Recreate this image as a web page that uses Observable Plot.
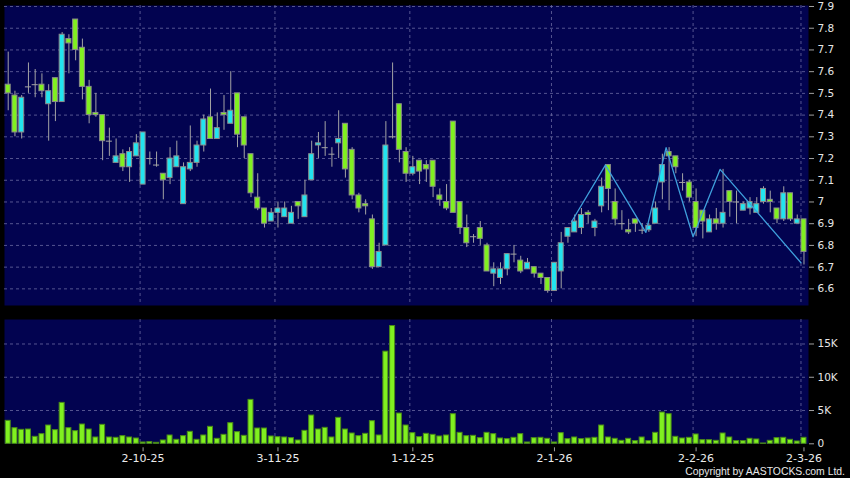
<!DOCTYPE html>
<html><head><meta charset="utf-8">
<script src="https://cdn.jsdelivr.net/npm/d3@7"></script>
<script src="https://cdn.jsdelivr.net/npm/@observablehq/plot@0.6"></script>
<style>
html,body{margin:0;padding:0;background:#000;}
#wrap{position:relative;width:850px;height:478px;overflow:hidden;background:#000;}
#price{position:absolute;left:0;top:0;}
#vol{position:absolute;left:0;top:310px;}
#copy{position:absolute;right:5px;top:466px;color:#e8e8e8;font:10.4px "Liberation Sans",Arial,sans-serif;line-height:11px;white-space:nowrap;}
</style></head><body>
<div id="wrap"><div id="price"></div><div id="vol"></div><div id="copy">Copyright by AASTOCKS.com Ltd.</div></div>
<script>
// ---- data (daily candles, index 0..118) ----
const opens = [7.54,7.49,7.32,7.53,7.54,7.54,7.45,7.57,7.46,7.75,7.84,7.71,7.53,7.41,7.40,7.28,7.18,7.22,7.16,7.21,
7.08,7.20,7.17,7.13,7.11,7.16,6.99,7.15,7.18,7.26,7.39,7.29,7.41,7.36,7.50,7.39,7.22,7.02,6.97,6.91,
6.95,6.93,6.90,7.00,6.93,7.10,7.26,7.25,7.22,7.27,7.36,7.24,7.03,6.99,6.92,6.70,6.80,7.30,7.45,7.23,
7.13,7.19,7.17,7.19,7.03,7.00,7.37,7.00,6.88,6.84,6.88,6.80,6.67,6.65,6.69,6.76,6.73,6.69,6.70,6.67,
6.65,6.59,6.68,6.84,6.86,6.88,6.95,6.88,6.98,7.17,7.00,6.90,6.87,6.92,6.87,6.87,6.90,7.09,7.23,7.21,
7.09,7.09,7.00,6.96,6.86,6.92,6.90,7.05,7.00,6.96,6.97,6.95,7.00,7.01,6.97,6.92,7.04,6.90,6.92];
const highs = [7.69,7.51,7.49,7.64,7.61,7.59,7.54,7.57,7.78,7.77,7.84,7.75,7.56,7.50,7.40,7.34,7.29,7.24,7.25,7.31,
7.32,7.23,7.23,7.13,7.25,7.28,7.18,7.35,7.28,7.40,7.52,7.41,7.49,7.60,7.50,7.39,7.22,7.13,6.97,6.97,
7.00,7.00,6.98,7.00,7.10,7.28,7.32,7.37,7.25,7.42,7.36,7.25,7.04,7.01,6.94,6.81,7.37,7.64,7.45,7.25,
7.21,7.19,7.19,7.19,7.06,7.08,7.37,7.00,6.94,6.85,6.91,6.81,6.72,6.72,6.76,6.80,6.75,6.74,6.70,6.67,
6.65,6.72,6.86,6.88,6.94,6.97,6.96,6.92,7.11,7.17,7.06,6.96,6.92,6.92,6.90,6.90,7.00,7.22,7.25,7.21,
7.13,7.10,7.06,6.96,6.94,6.97,7.15,7.05,7.05,7.00,7.02,7.02,7.07,7.05,6.97,7.07,7.04,6.94,6.92];
const lows = [7.42,7.30,7.29,7.50,7.48,7.48,7.28,7.37,7.46,7.59,7.65,7.47,7.36,7.39,7.19,7.21,7.18,7.14,7.09,7.21,
7.08,7.17,7.16,7.01,7.08,7.16,6.99,7.14,7.16,7.23,7.29,7.29,7.33,7.36,7.25,7.20,7.02,6.96,6.88,6.91,
6.88,6.93,6.90,6.92,6.93,7.10,7.20,7.21,7.16,7.20,7.11,7.01,6.95,6.94,6.69,6.70,6.80,7.29,7.18,7.09,
7.12,7.08,7.09,7.02,6.98,6.96,6.95,6.85,6.79,6.81,6.80,6.68,6.61,6.62,6.66,6.72,6.67,6.69,6.65,6.62,
6.58,6.59,6.60,6.81,6.86,6.85,6.90,6.84,6.95,6.96,6.89,6.87,6.85,6.86,6.85,6.86,6.90,7.01,6.96,7.13,
7.05,7.00,6.84,6.83,6.86,6.87,6.88,6.93,6.90,6.96,6.94,6.95,6.99,6.95,6.90,6.91,6.91,6.90,6.71];
const closes = [7.50,7.32,7.48,7.53,7.54,7.51,7.51,7.46,7.77,7.73,7.70,7.53,7.40,7.40,7.28,7.28,7.21,7.16,7.23,7.27,
7.32,7.20,7.17,7.10,7.20,7.21,7.16,7.18,7.26,7.38,7.29,7.34,7.40,7.42,7.31,7.26,7.04,6.97,6.90,6.95,
6.97,6.97,6.95,6.98,7.03,7.22,7.27,7.25,7.22,7.29,7.15,7.03,6.97,6.98,6.70,6.77,7.26,7.30,7.24,7.13,
7.16,7.14,7.15,7.07,7.01,6.97,6.95,6.88,6.81,6.84,6.83,6.68,6.69,6.69,6.76,6.76,6.68,6.72,6.67,6.65,
6.59,6.72,6.81,6.88,6.91,6.94,6.94,6.91,7.07,7.06,6.92,6.90,6.86,6.90,6.87,6.89,6.97,7.17,7.21,7.16,
7.09,7.02,6.88,6.91,6.92,6.90,6.95,7.00,7.00,6.99,7.00,6.99,7.06,7.00,6.92,7.04,6.92,6.92,6.77];
const volumes = [3450,2350,2100,2150,1050,1450,2750,2050,6150,2350,1900,2900,2150,950,2850,950,900,1150,950,800,
200,250,150,500,1250,600,1150,1800,600,1250,2550,
750,1350,3100,1750,1200,6600,2300,2300,1100,1000,950,850,500,1950,4250,2150,2400,950,3900,2150,1550,1150,1500,3400,1250,13850,17700,4550,2750,1600,1000,
1500,1350,1100,1250,4450,1650,1150,1200,850,1650,1450,800,700,900,1450,200,850,900,750,200,1600,700,950,700,800,900,2750,950,750,450,750,
400,950,400,1650,4700,4450,1050,800,900,1400,550,550,450,1550,950,400,400,750,650,50,450,850,900,600,350,900];
// date tick positions (candle index) and labels
const dateIdx = [20, 40, 60, 81, 102, 118];
const dateLabels = ["2-10-25", "3-11-25", "1-12-25", "2-1-26", "2-2-26", "2-3-26"];
// price and volume tick values
const priceTicks = [6.6,6.7,6.8,6.9,7.0,7.1,7.2,7.3,7.4,7.5,7.6,7.7,7.8,7.9];
const volTicks = [0, 5000, 10000, 15000];
const volTickLabels = ["0", "5K", "10K", "15K"];
// zigzag trend line vertices
const zzIdx = [84, 89, 95, 98, 102, 106, 118];
const zzPrice = [6.91, 7.17, 6.86, 7.25, 6.84, 7.15, 6.72];

// ---- build tables ----
const candles = d3.range(opens.length).map(i => ({i, open: opens[i], high: highs[i], low: lows[i], close: closes[i], volume: volumes[i]}));
const bodies = candles.filter(d => d.open !== d.close);
const dojis = candles.filter(d => d.open === d.close);
const zz = zzIdx.map((x, k) => ({x, y: zzPrice[k]}));

const NAVY = "#020350", GREEN = "#80f020", CYAN = "#22e4ef";
const GRID = {stroke: "#6a6aa0", strokeDasharray: "3,3", strokeOpacity: 0.8, strokeWidth: 1};
const xDomain = [-0.55, 118.67];
const HW = 0.37;
const fontFamily = "'DejaVu Sans', sans-serif";

const price = Plot.plot({
  width: 850, height: 310,
  marginTop: 5, marginBottom: 5, marginLeft: 4, marginRight: 42,
  style: {background: "#000", color: "#e6e6e6", fontFamily, fontSize: "10.5px"},
  x: {domain: xDomain, axis: null},
  y: {domain: [6.5234, 7.9046], axis: null},
  marks: [
    Plot.frame({fill: NAVY, stroke: null}),
    Plot.ruleY(priceTicks, {...GRID}),
    Plot.ruleX(dateIdx, {...GRID, dx: -3}),
    Plot.ruleX(candles, {x: "i", y1: "low", y2: "high", stroke: "#a4a4a4", strokeWidth: 1}),
    Plot.rect(bodies, {x1: d => d.i - HW, x2: d => d.i + HW, y1: "open", y2: "close",
      fill: d => d.close > d.open ? CYAN : GREEN, stroke: "#8c8c8c", strokeWidth: 1}),
    Plot.ruleY(dojis, {y: "open", x1: d => d.i - 0.45, x2: d => d.i + 0.45, stroke: "#a4a4a4", strokeWidth: 1}),
    Plot.line(zz, {x: "x", y: "y", dx: -3, stroke: "#3f9fdc", strokeWidth: 1.3}),
    Plot.axisY({anchor: "right", ticks: priceTicks, tickFormat: d => String(+d.toFixed(1)), tickSize: 5, tickPadding: 4, stroke: "#a0a0a0", fill: "#e6e6e6", fontSize: 10.5, label: null})
  ]
});
document.getElementById("price").appendChild(price);

const vol = Plot.plot({
  width: 850, height: 168,
  marginTop: 9, marginBottom: 34.7, marginLeft: 4, marginRight: 42,
  style: {background: "#000", color: "#e6e6e6", fontFamily, fontSize: "10.5px"},
  x: {domain: xDomain, axis: null},
  y: {domain: [0, 18680], axis: null},
  marks: [
    Plot.frame({fill: NAVY, stroke: null}),
    Plot.ruleY(volTicks.filter(v => v > 0), {...GRID}),
    Plot.ruleX(dateIdx, {...GRID, dx: -3}),
    Plot.rectY(candles, {x1: d => d.i - HW, x2: d => d.i + HW, y: "volume", fill: GREEN, stroke: "#4a8a18", strokeWidth: 1}),
    Plot.axisY({anchor: "right", ticks: volTicks, tickFormat: d => volTickLabels[volTicks.indexOf(d)], tickSize: 5, tickPadding: 4, stroke: "#a0a0a0", fill: "#e6e6e6", fontSize: 10.5, label: null}),
    Plot.axisX({anchor: "bottom", ticks: dateIdx, tickFormat: d => dateLabels[dateIdx.indexOf(d)], tickSize: 4, tickPadding: 2, dy: 4, stroke: "#a0a0a0", fill: "#ececec", fontSize: 11, label: null})
  ]
});
document.getElementById("vol").appendChild(vol);
</script>
</body></html>
